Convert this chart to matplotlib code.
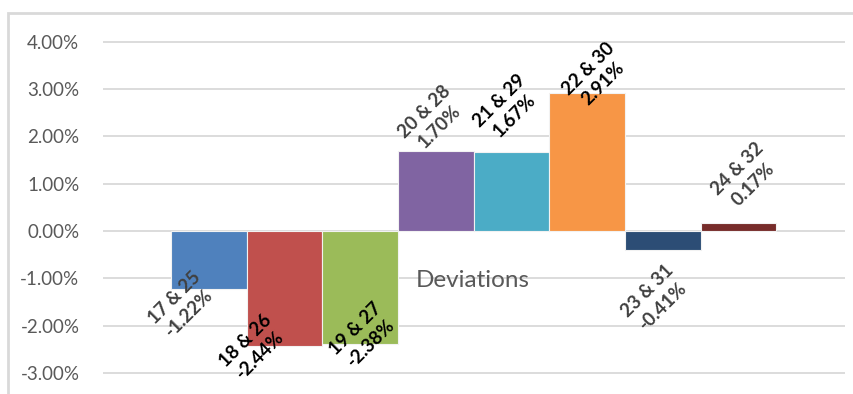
import numpy as np
import matplotlib.pyplot as plt
from matplotlib.patches import Rectangle

# deviation per pair of years (percent)
pairs = ["17 & 25", "18 & 26", "19 & 27", "20 & 28", "21 & 29", "22 & 30", "23 & 31", "24 & 32"]
deviations = [-1.22, -2.44, -2.38, 1.70, 1.67, 2.91, -0.41, 0.17]
colors = ["#4F81BD", "#C0504D", "#9BBB59", "#8064A2", "#4BACC6", "#F79646", "#2C4D75", "#772C2A"]
label_colors = ["#404040", "#000000", "#000000", "#404040", "#000000", "#000000", "#404040", "#404040"]
# label shift from the bar end, in data units (x, y)
label_dx = [-0.36, -0.42, 0.04, -0.05, -0.06, 0.11, -0.10, 0.09]
label_dy = [-0.35, -0.03, 0.16, 0.67, 0.92, 0.37, -1.01, 0.98]
yticks = [-3, -2, -1, 0, 1, 2, 3, 4]

plt.rcParams['font.family'] = ['Lato', 'DejaVu Sans']

fig = plt.figure(figsize=(8.54, 3.94), dpi=100)
# outer chart frame (light grey)
fig.patches.append(Rectangle((8 / 854, -0.1), 1.2, 1 - 13 / 394 + 0.1, transform=fig.transFigure,
                             fill=False, edgecolor="#D9D9D9", linewidth=2))

ax = fig.add_axes([103 / 854, 1 - 389.5 / 394, 742 / 854, (389.5 - 22.9) / 394])
x = np.arange(len(deviations))
ax.bar(x, deviations, width=1.0, color=colors, edgecolor="#F2F2F2", linewidth=0.8, zorder=3)

ax.set_xlim(-1.4, 8.41)
ax.set_ylim(-3.35, 4.4)
ax.set_yticks(yticks)
ax.set_yticklabels(["%.2f%%" % v for v in yticks], color="#595959", fontsize=13.5)
ax.tick_params(axis="y", length=0, pad=17)
ax.set_xticks([])
ax.grid(axis="y", color="#D9D9D9", linewidth=1.3, zorder=0)
for s in ax.spines.values():
    s.set_visible(False)

for i, v in enumerate(deviations):
    ax.text(i + label_dx[i], v + label_dy[i], "%s\n%.2f%%" % (pairs[i], v),
            rotation=45, rotation_mode="anchor", ha="center", va="center",
            multialignment="center", fontsize=13.5, fontweight="bold",
            color=label_colors[i], linespacing=1.3, zorder=4)

ax.text(3.49, -1.04, "Deviations", ha="center", va="center", fontsize=17.5,
        color="#595959", zorder=4)

fig.savefig("out.png", dpi=100)
